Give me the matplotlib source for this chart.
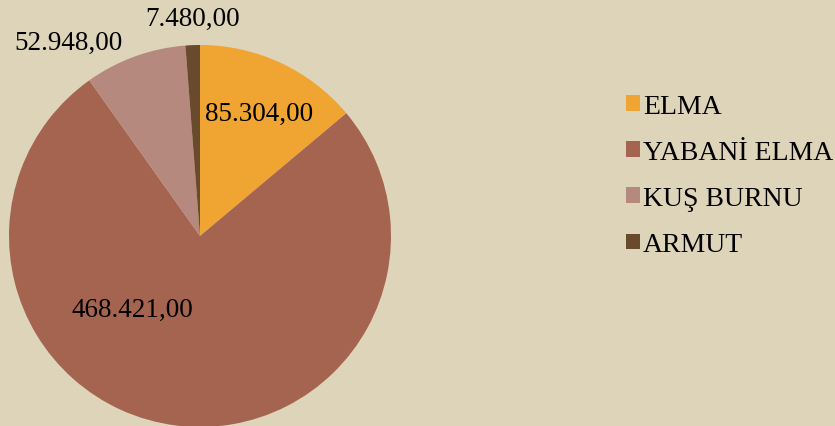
import matplotlib
matplotlib.use("Agg")
import matplotlib.pyplot as plt
from matplotlib.patches import Patch

categories = ["ELMA", "YABANİ ELMA", "KUŞ BURNU", "ARMUT"]
values = [85304, 468421, 52948, 7480]
value_labels = ["85.304,00", "468.421,00", "52.948,00", "7.480,00"]
colors = ["#F0A431", "#A5644F", "#B5897E", "#6A4A2C"]

plt.rcParams['font.family'] = ['Liberation Serif', 'DejaVu Serif']

fig = plt.figure(figsize=(8.35, 4.27), dpi=100)
fig.patch.set_facecolor("#DDD4BA")

W, H = 835, 427
cx, cy, r = 200, 237, 191
ax = fig.add_axes([(cx - r) / W, (H - cy - r) / H, 2 * r / W, 2 * r / H])
ax.set_facecolor("none")
wedges, _ = ax.pie(values, colors=colors, startangle=90, counterclock=False,
                   radius=1, wedgeprops=dict(linewidth=0))
ax.set_xlim(-1, 1)
ax.set_ylim(-1, 1)
ax.set_aspect("equal")
ax.axis("off")

label_pos = [(0.31, 0.64), (-0.355, -0.385), (-0.69, 1.015), (-0.04, 1.14)]
for (x, y), t in zip(label_pos, value_labels):
    ax.text(x, y, t, ha="center", va="center", fontsize=19.5, color="#000000",
            clip_on=False)

handles = [Patch(facecolor=c, edgecolor="none") for c in colors]
fig.legend(handles, categories, loc="upper left",
           bbox_to_anchor=(626 / W, 1 - 95 / H), frameon=False,
           fontsize=20, handlelength=0.5, handleheight=0.5,
           handletextpad=0.12, labelspacing=0.76, borderaxespad=0,
           borderpad=0)

fig.savefig("out.png", dpi=100, facecolor=fig.get_facecolor())
